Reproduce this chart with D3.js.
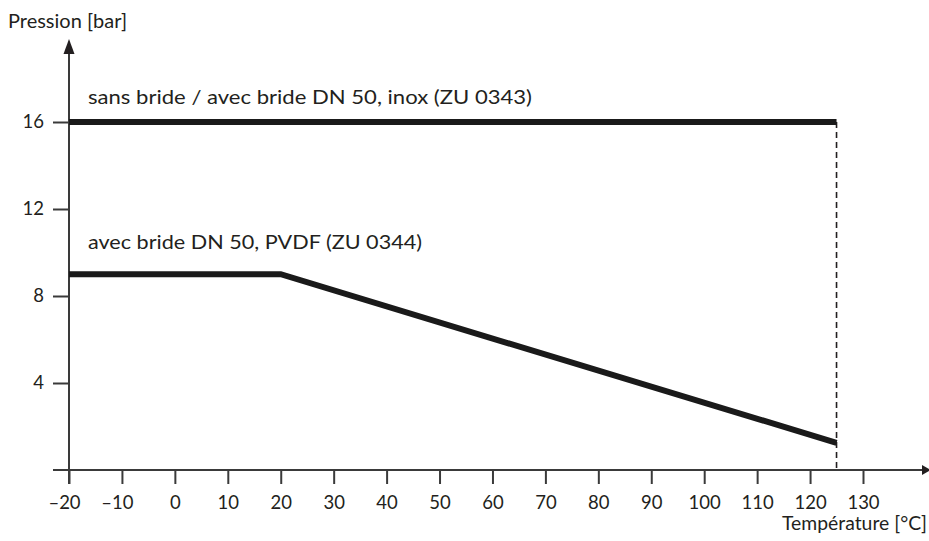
<!DOCTYPE html>
<html>
<head>
<meta charset="utf-8">
<script src="https://cdn.jsdelivr.net/npm/d3@7"></script>
<style>
  body { margin: 0; background: #fff; }
  svg { display: block; }
  text { font-family: Lato, "Open Sans", sans-serif; fill: #231f20; }
</style>
</head>
<body>
<svg id="chart" width="929" height="541"></svg>
<script>
// ---- data ----
const xTicks = [-20, -10, 0, 10, 20, 30, 40, 50, 60, 70, 80, 90, 100, 110, 120, 130];
const yTicks = [4, 8, 12, 16];
const inoxTemp = [-20, 125];
const inoxPressure = [16, 16];
const pvdfTemp = [-20, 20, 125];
const pvdfPressure = [9, 9, 1.25];
const limitTemp = 125;
const seriesLabels = ["sans bride / avec bride DN 50, inox (ZU 0343)", "avec bride DN 50, PVDF (ZU 0344)"];
const xTitle = "Température [°C]";
const yTitle = "Pression [bar]";

// ---- layout ----
const svg = d3.select("#chart");
const x = d3.scaleLinear().domain([-20, 130]).range([69, 863]);
const y = d3.scaleLinear().domain([0, 16]).range([470, 122]);
const ink = "#231f20";
const axisCol = "#3a3a3a";

function setWidth(sel, w) {
  sel.attr("textLength", w).attr("lengthAdjust", "spacingAndGlyphs");
}

// x axis
const xAxis = d3.axisBottom(x).tickValues(xTicks).tickSize(14).tickPadding(12)
  .tickFormat(d => d < 0 ? "\u2013" + Math.abs(d) : String(d));
const gx = svg.append("g").attr("transform", `translate(0,${y(0)})`).call(xAxis);
gx.select(".domain").remove();
gx.selectAll(".tick line").attr("stroke", axisCol).attr("stroke-width", 2);
gx.selectAll(".tick text").attr("font-size", 18.5).attr("fill", ink).attr("dy", "0.71em")
  .attr("dx", d => d < 0 ? -5 : 0);
svg.append("line").attr("x1", 53).attr("x2", 922).attr("y1", y(0)).attr("y2", y(0))
  .attr("stroke", axisCol).attr("stroke-width", 2);
svg.append("path").attr("d", `M922,${y(0) - 5}L931,${y(0)}L922,${y(0) + 5}Z`).attr("fill", ink);

// y axis
const yAxis = d3.axisLeft(y).tickValues(yTicks).tickSize(16).tickPadding(9);
const gy = svg.append("g").attr("transform", `translate(${x(-20)},0)`).call(yAxis);
gy.select(".domain").remove();
gy.selectAll(".tick line").attr("stroke", axisCol).attr("stroke-width", 2);
gy.selectAll(".tick text").attr("font-size", 18.5).attr("fill", ink);
svg.append("line").attr("x1", x(-20)).attr("x2", x(-20)).attr("y1", y(0) + 14).attr("y2", 52)
  .attr("stroke", axisCol).attr("stroke-width", 2);
svg.append("path").attr("d", `M${x(-20) - 5.5},54L${x(-20)},39L${x(-20) + 5.5},54Z`).attr("fill", ink);

// limit dashed line
svg.append("line").attr("x1", x(limitTemp)).attr("x2", x(limitTemp))
  .attr("y1", y(16)).attr("y2", y(0))
  .attr("stroke", ink).attr("stroke-width", 1.6).attr("stroke-dasharray", "6,4");

// series
const line = d3.line().x(d => x(d[0])).y(d => y(d[1]));
svg.append("path").datum(inoxTemp.map((t, i) => [t, inoxPressure[i]]))
  .attr("d", line).attr("fill", "none").attr("stroke", "#1a1a1a").attr("stroke-width", 6);
svg.append("path").datum(pvdfTemp.map((t, i) => [t, pvdfPressure[i]]))
  .attr("d", line).attr("fill", "none").attr("stroke", "#1a1a1a").attr("stroke-width", 6)
  .attr("stroke-linejoin", "miter");

// labels
setWidth(svg.append("text").attr("x", 88).attr("y", 104).attr("font-size", 20).text(seriesLabels[0]), 444);
setWidth(svg.append("text").attr("x", 88).attr("y", 249).attr("font-size", 20).text(seriesLabels[1]), 334);
setWidth(svg.append("text").attr("x", 8).attr("y", 28).attr("font-size", 19.5).text(yTitle), 119);
setWidth(svg.append("text").attr("x", 782).attr("y", 530).attr("font-size", 19.5).text(xTitle), 145);
</script>
</body>
</html>
